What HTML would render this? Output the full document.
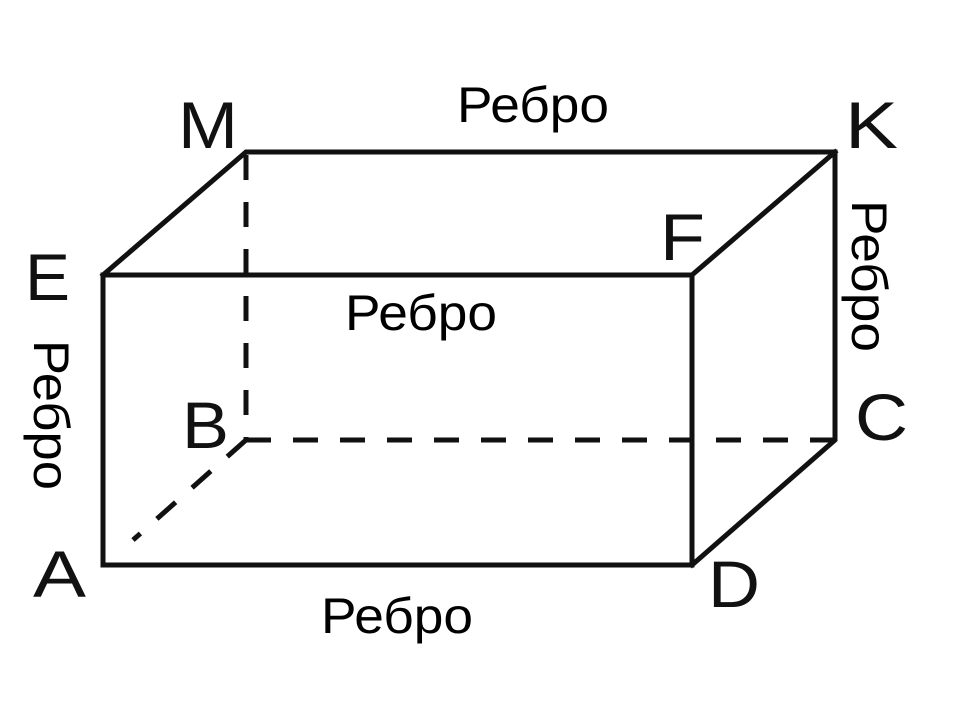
<!DOCTYPE html>
<html><head><meta charset="utf-8"><style>html,body{margin:0;padding:0;background:#fff}svg{display:block}</style></head>
<body>
<svg width="960" height="720" viewBox="0 0 960 720" xmlns="http://www.w3.org/2000/svg">
<rect width="960" height="720" fill="#fff"/>
<g stroke="#111" stroke-width="5" fill="none" stroke-linejoin="miter" stroke-linecap="square">
<polygon points="103,275 692,275 692,565 103,565"/>
<polyline points="103,275 246,152 835,152 835,440 692,565"/>
<line x1="692" y1="275" x2="835" y2="152"/>
</g>
<g stroke="#111" stroke-width="5" fill="none" stroke-dasharray="25,22">
<line x1="246" y1="155" x2="246" y2="440"/>
<line x1="246" y1="440" x2="835" y2="440"/>
<line x1="246" y1="440" x2="133" y2="540"/>
</g>
<g font-family="Liberation Sans, sans-serif" font-size="66" fill="#111">
<text x="178" y="148" textLength="60" lengthAdjust="spacingAndGlyphs">M</text>
<text x="845" y="148" textLength="53" lengthAdjust="spacingAndGlyphs">K</text>
<text x="25" y="300" textLength="45" lengthAdjust="spacingAndGlyphs">E</text>
<text x="660" y="260" textLength="45" lengthAdjust="spacingAndGlyphs">F</text>
<text x="182" y="448" textLength="47" lengthAdjust="spacingAndGlyphs">B</text>
<text x="855" y="440" textLength="53" lengthAdjust="spacingAndGlyphs">C</text>
<text x="33" y="597" textLength="53" lengthAdjust="spacingAndGlyphs">A</text>
<text x="708" y="607" textLength="52" lengthAdjust="spacingAndGlyphs">D</text>
</g>
<g font-family="Liberation Sans, sans-serif" font-size="50" fill="#000">
<text x="457" y="122" textLength="152" lengthAdjust="spacingAndGlyphs">Ребро</text>
<text x="345" y="330" textLength="152" lengthAdjust="spacingAndGlyphs">Ребро</text>
<text x="321" y="633" textLength="152" lengthAdjust="spacingAndGlyphs">Ребро</text>
<text transform="translate(852,200) rotate(90)" x="0" y="0" textLength="152" lengthAdjust="spacingAndGlyphs">Ребро</text>
<text transform="translate(34,340) rotate(90)" x="0" y="0" textLength="150" lengthAdjust="spacingAndGlyphs">Ребро</text>
</g>
</svg>
</body></html>
